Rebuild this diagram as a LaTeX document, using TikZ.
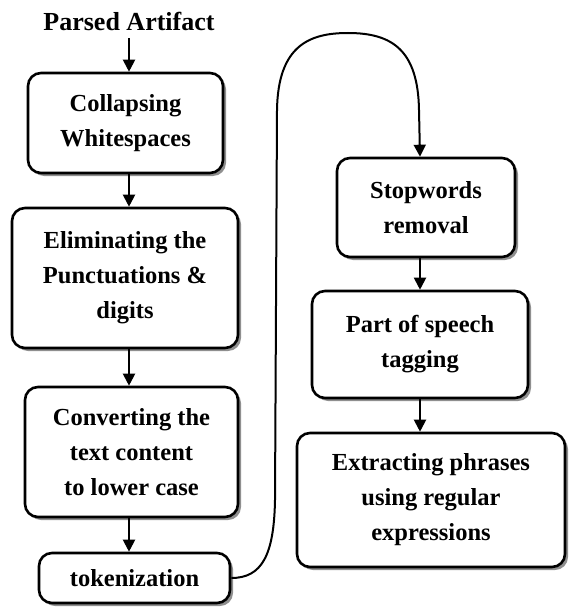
\documentclass[tikz,border=0pt]{standalone}
\usepackage{fontspec}
\setmainfont{Liberation Serif}
\usetikzlibrary{arrows.meta,shadows}
\tikzset{
  box/.style={draw=black, line width=2.6pt, rounded corners=13pt, fill=white,
    align=center, inner sep=0pt,
    font=\bfseries\fontsize{24.5}{35}\selectfont,
    drop shadow={shadow xshift=3pt, shadow yshift=-3pt, fill=black!55, opacity=0.8}},
  arr/.style={line width=2pt, arrows={-Triangle[length=12pt,width=12pt]}},
  lbl/.style={font=\bfseries\fontsize{26}{30}\selectfont, inner sep=0pt}}
\begin{document}
\begin{tikzpicture}[x=1pt,y=1pt]
\useasboundingbox (0,0) rectangle (568,-607);
\node[lbl] (title) at (129,-21) {Parsed Artifact};
\node[box, minimum width=195pt, minimum height=100pt] (b1) at (125.5,-123) {Collapsing\\Whitespaces};
\node[box, minimum width=226pt, minimum height=140pt] (b2) at (125,-278) {Eliminating the\\Punctuations \&\\digits};
\node[box, minimum width=213pt, minimum height=130pt] (b3) at (131.5,-452) {Converting the\\text content\\to lower case};
\node[box, minimum width=191pt, minimum height=50pt] (b4) at (134.5,-578) {tokenization};
\node[box, minimum width=178pt, minimum height=99pt] (b5) at (426,-207.5) {Stopwords\\removal};
\node[box, minimum width=216pt, minimum height=107pt] (b6) at (420,-344.5) {Part of speech\\tagging};
\node[box, minimum width=268pt, minimum height=134pt] (b7) at (431,-500) {Extracting phrases\\using regular\\expressions};
\draw[arr] ([yshift=-8pt]title.south) -- (b1.north -| title);
\draw[arr] (b1.south -| title) -- (b2.north -| title);
\draw[arr] (b2.south -| title) -- (b3.north -| title);
\draw[arr] (b3.south -| title) -- (b4.north -| title);
\draw[arr] (b5.south -| b6) -- (b6.north);
\draw[arr] (b6.south) -- (b7.north -| b6);
\draw[arr] (b4.east) .. controls (262,-578) and (274,-555) .. (275,-500) -- (277,-110)
  .. controls (278,-45) and (310,-33) .. (348,-33)
  .. controls (392,-33) and (418,-50) .. (419,-110) -- (b5.north -| b6);
\end{tikzpicture}
\end{document}
